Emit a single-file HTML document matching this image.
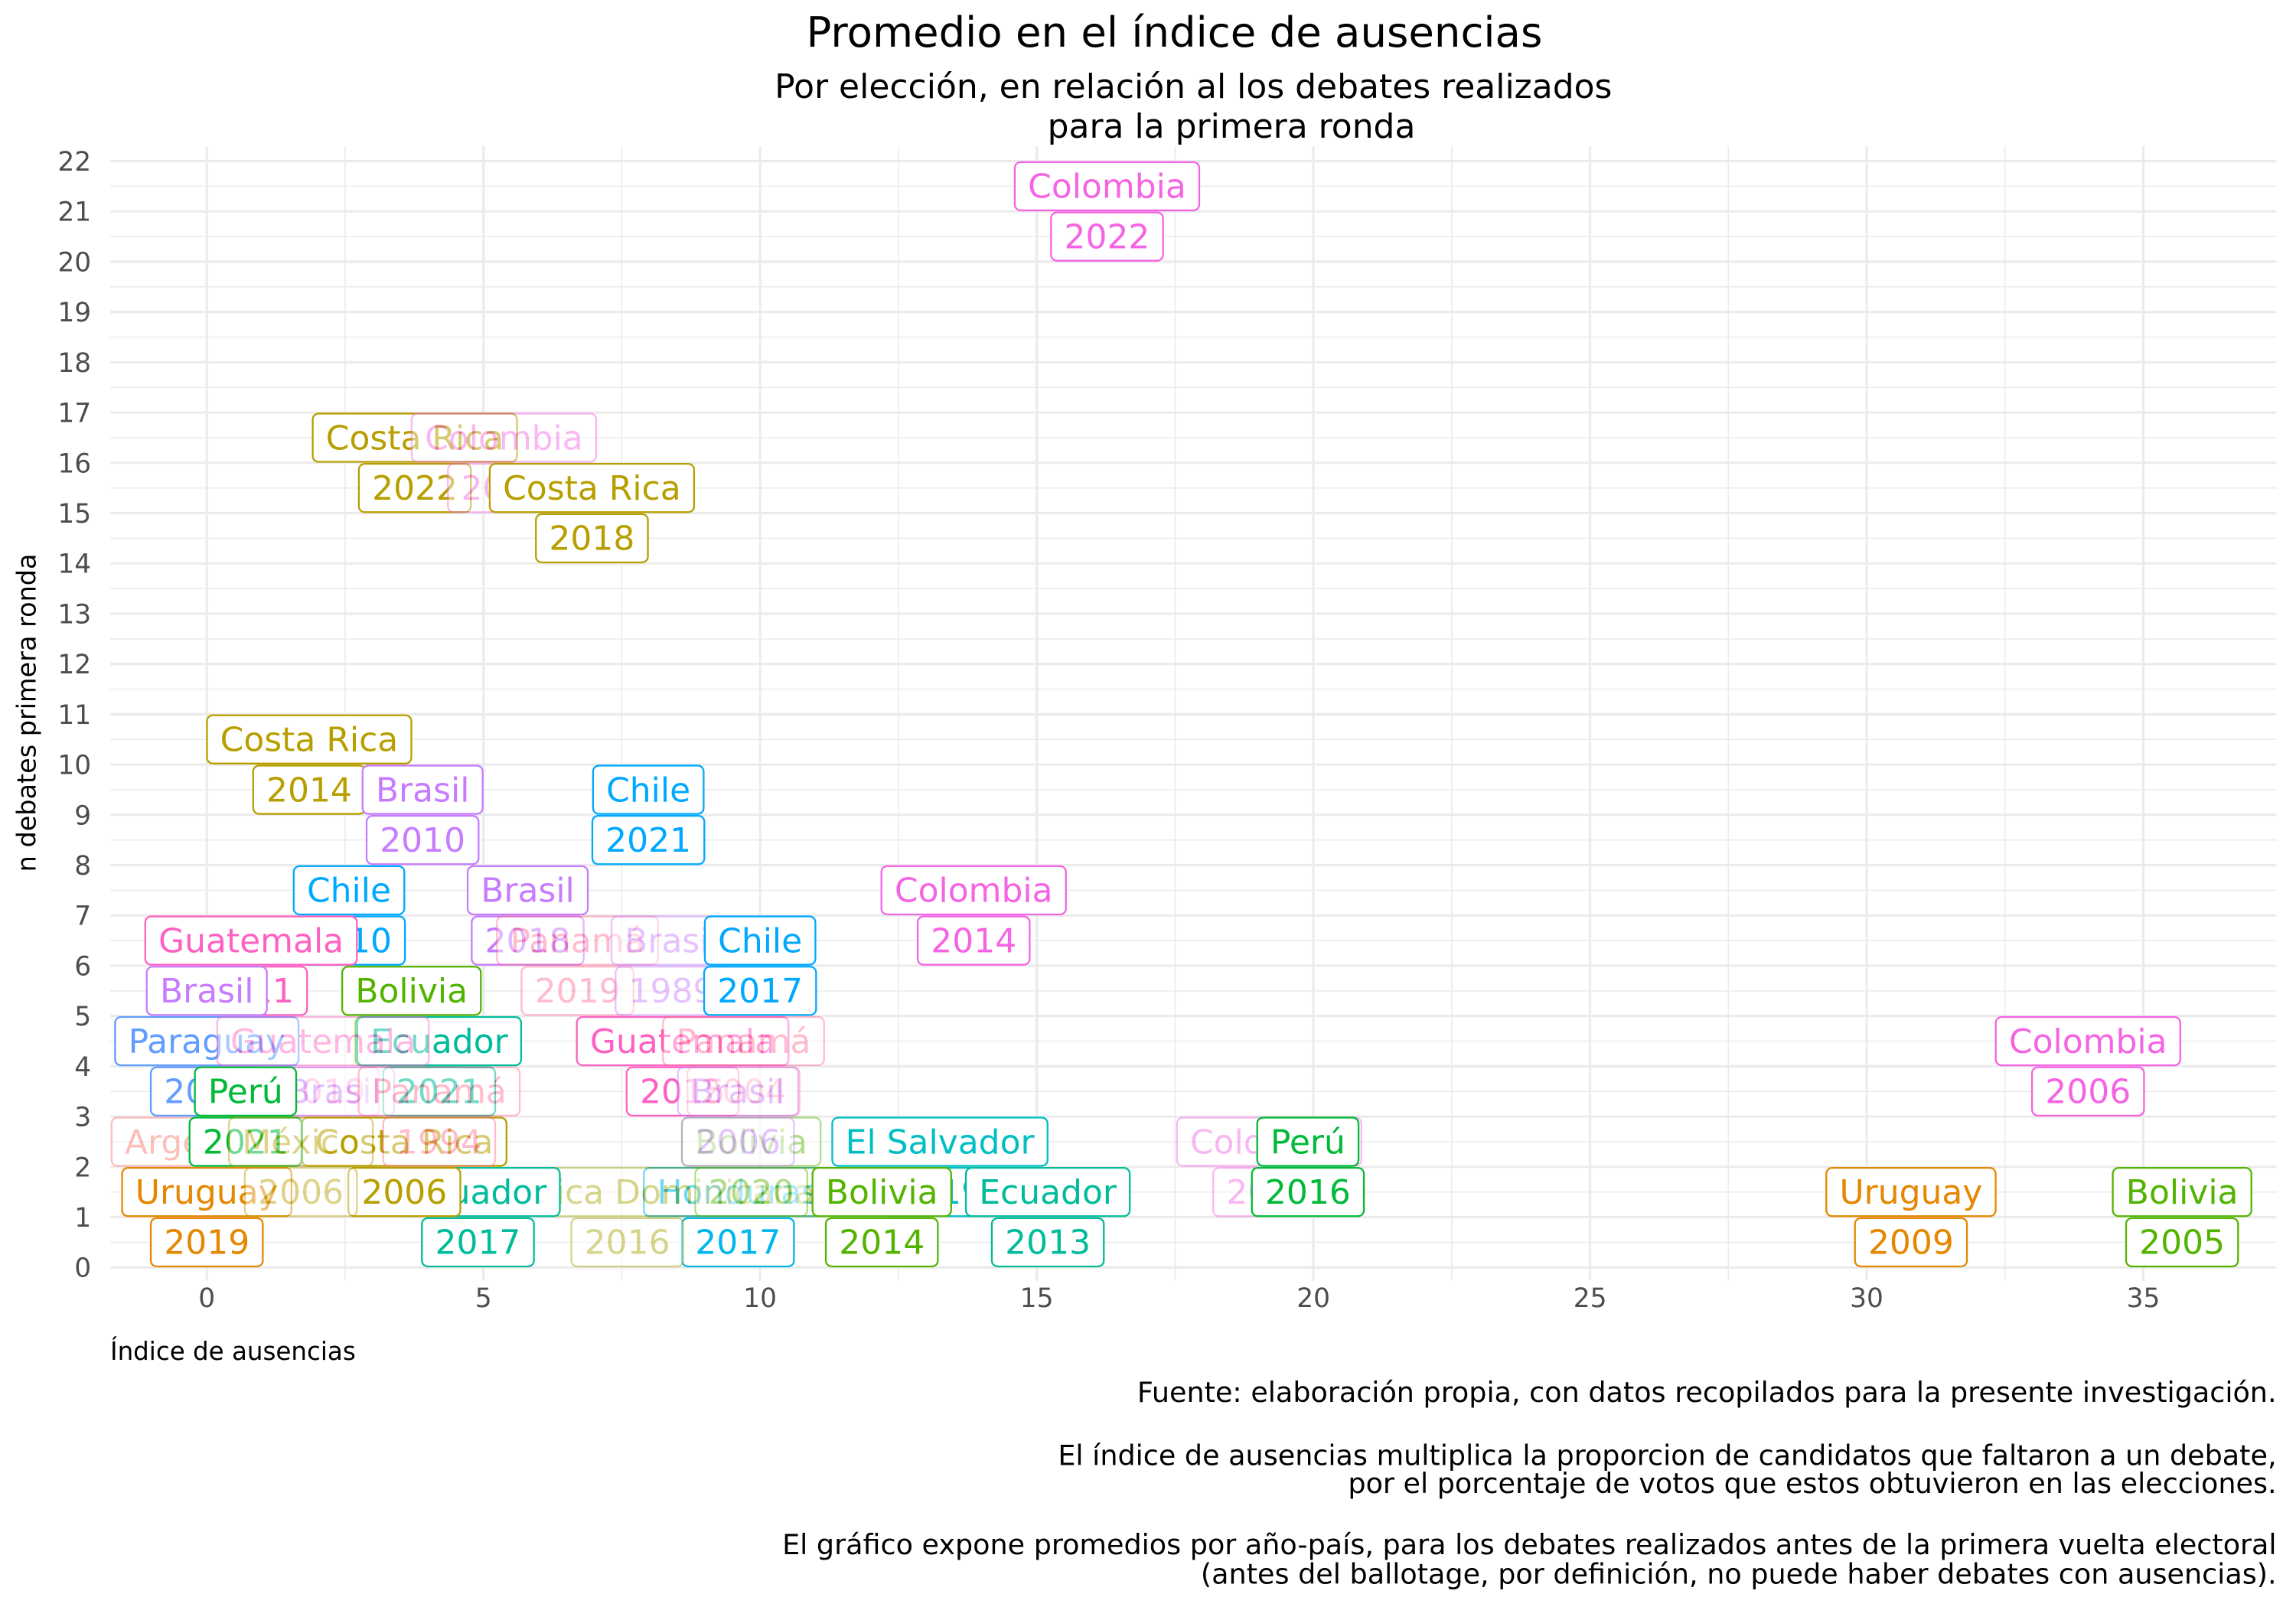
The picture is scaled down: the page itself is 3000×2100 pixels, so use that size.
<!DOCTYPE html>
<html><head><meta charset="utf-8">
<style>
html,body{margin:0;padding:0;background:#fff;}
svg{display:block;font-family:"DejaVu Sans","Liberation Sans",sans-serif;}
</style></head>
<body>
<svg id="chart" width="3000" height="2100" viewBox="0 0 1568 1098" xmlns="http://www.w3.org/2000/svg">
<rect width="1568" height="1098" fill="#fff"/>
<text x="802" y="32" font-size="28.5" text-anchor="middle" fill="#000">Promedio en el índice de ausencias</text>
<text x="815" y="67" font-size="23" text-anchor="middle" fill="#000">Por elección, en relación al los debates realizados</text>
<text x="841" y="94" font-size="23" text-anchor="middle" fill="#000">para la primera ronda</text>
<g id="grid"></g>
<g id="yticks"></g>
<g id="xticks"></g>
<g id="labels"></g>
<text transform="translate(24,487) rotate(-90)" font-size="17.5" text-anchor="middle" fill="#000">n debates primera ronda</text>
<text x="75" y="929" font-size="17" fill="#000">Índice de ausencias</text>
<g font-size="19.1" text-anchor="end" fill="#000">
<text x="1555" y="958">Fuente: elaboración propia, con datos recopilados para la presente investigación.</text>
<text x="1555" y="1001">El índice de ausencias multiplica la proporcion de candidatos que faltaron a un debate,</text>
<text x="1555" y="1020">por el porcentaje de votos que estos obtuvieron en las elecciones.</text>
<text x="1555" y="1062">El gráfico expone promedios por año-país, para los debates realizados antes de la primera vuelta electoral</text>
<text x="1555" y="1082">(antes del ballotage, por definición, no puede haber debates con ausencias).</text>
</g>
</svg>
<script>
const countries = ["Colombia","Costa Rica","Colombia","Costa Rica","Costa Rica","Brasil","Chile","Chile","Brasil","Colombia","Guatemala","Panamá","Brasil","Chile","Bolivia","Brasil","Ecuador","Guatemala","Panamá","Colombia","Paraguay","Guatemala","Brasil","Argentina","Uruguay","Colombia","Perú","El Salvador","Ecuador","Uruguay","Bolivia","Honduras","República Dominicana","Ecuador","Bolivia","Bolivia","Brasil","Costa Rica","Perú","Panamá","México"];
const years = ["2022","2022","2018","2018","2014","2010","2021","2010","2018","2014","2011","2019","1989","2017","1997","2014","2021","2015","2004","2006","2013","2019","2022","2019","2019","2019","2016","2019","2013","2009","2005","2017","2016","2017","2014","2020","2006","2006","2021","1994","2006"];
const xVals = [16.27,3.76,5.37,6.96,1.85,3.9,7.98,2.57,5.8,13.86,0.8,6.7,8.4,10.0,3.7,0,4.2,8.6,9.7,34.0,0,2.1,2.3,0,0,19.2,19.9,13.25,15.2,30.8,35.7,9.6,7.6,4.9,12.2,9.84,9.6,3.57,0.7,4.2,1.7];
const yVals = [21,16,16,15,10,9,9,7,7,7,6,6,6,6,5,5,4,4,4,4,4,4,3,2,1,2,2,2,1,1,1,1,1,1,1,2,3,2,3,3,2];
const faded = [0,0,1,0,0,0,0,0,0,0,0,1,1,0,0,0,0,0,1,0,0,1,1,1,0,1,0,0,0,0,0,0,1,0,0,1,1,0,0,1,1];
const xTicks = [0,5,10,15,20,25,30,35];
const yTicks = [0,1,2,3,4,5,6,7,8,9,10,11,12,13,14,15,16,17,18,19,20,21,22];
const colorMap = {"Argentina":"#F8766D","Bolivia":"#53B400","Brasil":"#C77CFF","Chile":"#00A9FF","Colombia":"#F564E3","Costa Rica":"#B79F00","Ecuador":"#00BC9A","El Salvador":"#00BFC4","Guatemala":"#FF61C3","Honduras":"#00B6EB","México":"#B79F00","Panamá":"#FF6C91","Paraguay":"#619CFF","Perú":"#00BA38","República Dominicana":"#A3A500","Uruguay":"#E58700"};

const NS="http://www.w3.org/2000/svg";
const PX0=75, PX1=1555, PY0=100, PY1=875;
const X = v => 141 + v*37.8;
const Y = v => 866 - v*34.36;
function mk(tag, attrs, parent){const e=document.createElementNS(NS,tag);for(const k in attrs)e.setAttribute(k,attrs[k]);parent.appendChild(e);return e;}

const grid=document.getElementById('grid');
for(let v=0; v<=22; v+=0.5){
  const l=mk('line',{x1:PX0,x2:PX1,y1:Y(v),y2:Y(v),stroke:'#ebebeb','stroke-width':(v%1===0)?1.6:0.8},grid);
  
  
}
for(let v=-2.5; v<=37.5; v+=2.5){
  const px=X(v); if(px<PX0||px>PX1) continue;
  const l=mk('line',{x1:px,x2:px,y1:PY0,y2:PY1,stroke:'#ebebeb','stroke-width':(v%5===0)?1.6:0.8},grid);
  
  
}
const yt=document.getElementById('yticks');
yTicks.forEach(v=>{
  const t=mk('text',{x:62,y:Y(v)+6.5,'font-size':18,'text-anchor':'end',fill:'#4d4d4d'},yt);
  t.textContent=v;
  
  
});
const xt=document.getElementById('xticks');
xTicks.forEach(v=>{
  const t=mk('text',{x:X(v),y:893,'font-size':18,'text-anchor':'middle',fill:'#4d4d4d'},xt);
  t.textContent=v;
  
  
});
const lg=document.getElementById('labels');
function label(txt, cx, cy, col, op, name){
  const g=mk('g',{opacity:op},lg);
  
  
  const r=mk('rect',{y:cy-16.5,height:33,rx:4,fill:'#fff',stroke:col,'stroke-width':1.2},g);
  const t=mk('text',{x:cx,y:cy+8,'font-size':23,'text-anchor':'middle',fill:col},g);
  t.textContent=txt;
  let w=t.getComputedTextLength?t.getComputedTextLength():txt.length*13;
  if(!w) w=txt.length*13;
  r.setAttribute('x',cx-w/2-9);
  r.setAttribute('width',w+18);
}
countries.forEach((c,i)=>{
  const col=colorMap[c]||'#888';
  const op=faded[i]?0.45:1;
  label(c, X(xVals[i]), Y(yVals[i]+0.5), col, op, 'country-label');
  label(years[i], X(xVals[i]), Y(yVals[i]-0.5), col, op, 'year-label');
});
</script>
</body></html>
